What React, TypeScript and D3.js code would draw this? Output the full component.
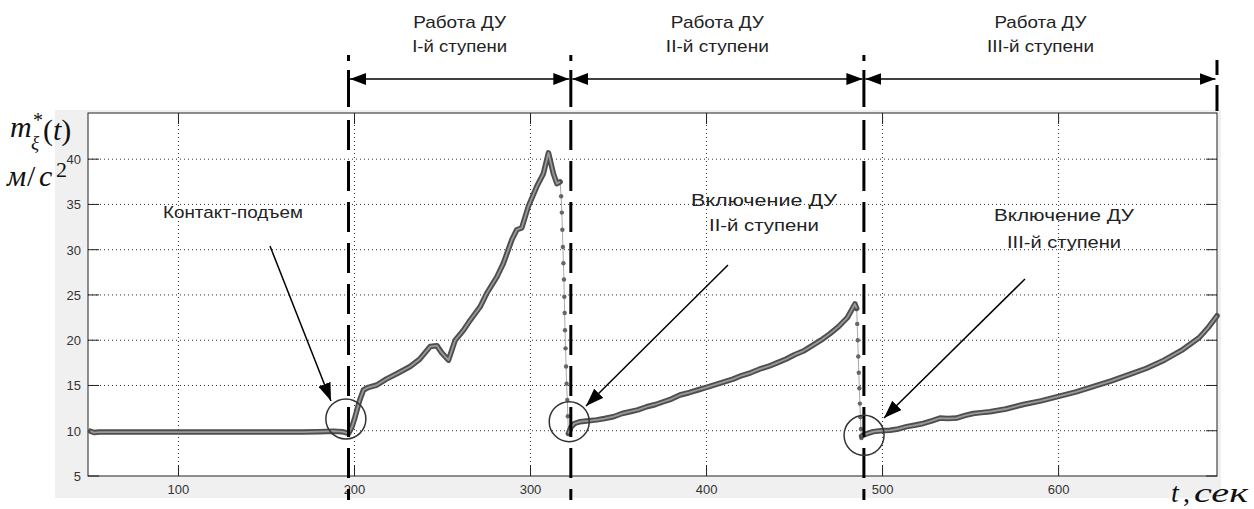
import React from "react";
import * as d3 from "d3";

// ---- data ----
const xTicks = [100, 200, 300, 400, 500, 600];
const yTicks = [5, 10, 15, 20, 25, 30, 35, 40];

// stage boundaries (seconds)
const boundaries = [196.6, 322.9, 489.4, 690];
const stageTitles = ["Работа ДУ", "Работа ДУ", "Работа ДУ"];
const stageSubtitles = ["I-й ступени", "II-й ступени", "III-й ступени"];

// segment 1: ground + first stage
const s1T = [50, 52, 55, 60, 70, 90, 110, 130, 150, 170, 180, 188, 193, 196.6, 198.5, 200, 201.4, 203, 205.1, 208, 212.7, 218, 224, 231.6, 237, 243, 246.8, 249.6, 253.4, 257.2, 261.9, 265.7, 271.4, 275.2, 280.9, 284.6, 289.4, 292.2, 295.0, 298.8, 303.6, 307.3, 310.2, 313.0, 315, 316.8];
const s1V = [9.95, 9.8, 9.85, 9.85, 9.85, 9.85, 9.85, 9.85, 9.85, 9.85, 9.9, 9.95, 9.9, 9.7, 10.4, 11.3, 12.3, 13.4, 14.5, 14.8, 15.05, 15.7, 16.3, 17.1, 17.9, 19.3, 19.4, 18.6, 17.8, 20.0, 21.1, 22.2, 23.7, 25.2, 27.0, 28.5, 31.1, 32.2, 32.4, 34.8, 37.0, 38.4, 40.7, 38.4, 37.3, 37.5];

// separation drop 1
const d1T = [316.8, 317.4, 317.8, 318.1, 318.4, 318.7, 319.0, 319.2, 319.4, 319.6, 319.9, 320.2, 320.5, 320.9, 321.2, 321.5];
const d1V = [37.5, 35.9, 34.1, 32.2, 30.3, 28.5, 26.7, 24.8, 23.0, 21.1, 19.1, 17.1, 15.2, 13.4, 11.6, 9.7];

// segment 2: second stage
const s2T = [321.5, 323, 325, 328.2, 333, 337.6, 342, 347.1, 352, 356.5, 361, 366, 371, 375.5, 380, 384.9, 390, 395, 400, 405, 410, 415, 420, 425, 430, 435, 440, 445, 450, 455, 460, 465, 470, 475, 480, 484.3, 485.3];
const s2V = [9.7, 10.4, 10.8, 11.0, 11.1, 11.2, 11.35, 11.55, 11.9, 12.1, 12.3, 12.65, 12.9, 13.2, 13.5, 13.95, 14.2, 14.5, 14.8, 15.1, 15.4, 15.7, 16.1, 16.4, 16.8, 17.1, 17.5, 17.9, 18.4, 18.8, 19.4, 20.0, 20.7, 21.5, 22.5, 24.0, 23.5];

// separation drop 2
const d2T = [485.3, 485.6, 485.9, 486.2, 486.5, 486.8, 487.1, 487.4, 487.7, 488.0];
const d2V = [23.5, 21.8, 20.0, 18.2, 16.4, 14.7, 13.0, 11.5, 10.2, 9.2];

// segment 3: third stage
const s3T = [488.1, 490, 494.7, 499, 504.2, 509, 513.7, 518, 523.1, 528, 532.6, 537, 542, 547, 551.5, 556, 561, 570, 580, 590, 600, 610, 620, 630, 640, 650, 660, 670, 680, 685, 690];
const s3V = [9.4, 9.6, 9.9, 10.0, 10.05, 10.2, 10.45, 10.6, 10.8, 11.1, 11.4, 11.35, 11.4, 11.7, 11.9, 12.0, 12.1, 12.4, 12.9, 13.3, 13.8, 14.3, 14.9, 15.5, 16.2, 16.9, 17.8, 18.9, 20.3, 21.4, 22.7];

// circles marking stage ignition (t, value)
const circleT = [195.1, 322.0, 489.5];
const circleV = [11.3, 11.0, 9.5];

// ---- layout ----
const W = 1254, H = 509;
const L = 88, R = 1217, T = 113, B = 476;
const x = d3.scaleLinear().domain([48.6, 690]).range([L, R]);
const y = d3.scaleLinear().domain([5, 45.1]).range([B, T]);

const zip = (ts: number[], vs: number[]) => ts.map((t, i) => [t, vs[i]] as [number, number]);
const line = d3.line<[number, number]>().x(d => x(d[0])).y(d => y(d[1]));

const SANS = "'Liberation Sans', Arial, sans-serif";
const SERIF = "'Liberation Serif', 'Times New Roman', serif";

function Label(props: { x: number; y: number; len: number; children: string }) {
  return (
    <text x={props.x} y={props.y} textAnchor="middle" fontFamily={SANS} fontSize={17} fill="#222"
      textLength={props.len} lengthAdjust="spacingAndGlyphs">{props.children}</text>
  );
}

export default function App() {
  const thick = [zip(s1T, s1V), zip(s2T, s2V), zip(s3T, s3V)];
  const drops = [zip(d1T, d1V), zip(d2T, d2V)];
  const bx = boundaries.map(b => x(b));
  const titleLen = [93, 93, 92];
  const subLen = [95, 103, 107];
  return (
    <svg width={W} height={H} style={{ position: "absolute", left: 0, top: 0, background: "#fff" }}>
      <defs>
        <marker id="ah" viewBox="0 0 16 12" refX="16" refY="6" markerWidth="16" markerHeight="12" markerUnits="userSpaceOnUse" orient="auto-start-reverse">
          <path d="M0,0 L16,6 L0,12 z" fill="#000" />
        </marker>
        <marker id="ah2" viewBox="0 0 18 13" refX="18" refY="6.5" markerWidth="18" markerHeight="13" markerUnits="userSpaceOnUse" orient="auto">
          <path d="M0,0 L18,6.5 L0,13 z" fill="#000" />
        </marker>
      </defs>
      <rect x={55} y={110} width={1166} height={388} fill="#f0f0f0" />
      <rect x={L} y={T} width={R - L} height={B - T} fill="#fff" />
      {/* grid */}
      {xTicks.map(t => (
        <line key={"gx" + t} x1={x(t)} x2={x(t)} y1={T} y2={B} stroke="#333" strokeWidth={1} strokeDasharray="1,3" />
      ))}
      {yTicks.filter(v => v > 5).map(v => (
        <line key={"gy" + v} x1={L} x2={R} y1={y(v)} y2={y(v)} stroke="#333" strokeWidth={1} strokeDasharray="1,3" />
      ))}
      {/* ticks */}
      {xTicks.map(t => (
        <g key={"tx" + t}>
          <line x1={x(t)} x2={x(t)} y1={B} y2={B - 11} stroke="#222" />
          <line x1={x(t)} x2={x(t)} y1={T} y2={T + 11} stroke="#222" />
          <text x={x(t)} y={494} textAnchor="middle" fontFamily={SANS} fontSize={13} fill="#333">{t}</text>
        </g>
      ))}
      {yTicks.map(v => (
        <g key={"ty" + v}>
          <line x1={L} x2={L + 11} y1={y(v)} y2={y(v)} stroke="#222" />
          <line x1={R} x2={R - 11} y1={y(v)} y2={y(v)} stroke="#222" />
          <text x={81} y={y(v) + 5} textAnchor="end" fontFamily={SANS} fontSize={13} fill="#333">{v}</text>
        </g>
      ))}
      <rect x={L} y={T} width={R - L} height={B - T} fill="none" stroke="#222" strokeWidth={1} />

      {/* drop lines with markers */}
      {drops.map((d, i) => (
        <g key={"d" + i}>
          <path d={line(d) || ""} fill="none" stroke="#aaa" strokeWidth={1} />
          {d.map((p, j) => (
            <circle key={j} cx={x(p[0])} cy={y(p[1])} r={2.2} fill="#666" />
          ))}
        </g>
      ))}
      {/* thick series */}
      {thick.map((d, i) => (
        <g key={"s" + i}>
          <path d={line(d) || ""} fill="none" stroke="#4e4e4e" strokeWidth={5.5} strokeLinejoin="round" strokeLinecap="round" />
          <path d={line(d) || ""} fill="none" stroke="#9a9a9a" strokeWidth={1.8} strokeLinejoin="round" />
        </g>
      ))}

      {/* stage boundary lines */}
      {bx.map((bxi, i) => (
        <g key={"b" + i}>
          {i < 3 ? (
            <>
              <line x1={bxi} x2={bxi} y1={55} y2={61} stroke="#000" strokeWidth={3} />
              <line x1={bxi} x2={bxi} y1={70} y2={107} stroke="#000" strokeWidth={3} />
              <line x1={bxi} x2={bxi} y1={120} y2={500} stroke="#000" strokeWidth={3} strokeDasharray="30,11" />
            </>
          ) : (
            <>
              <line x1={bxi} x2={bxi} y1={60} y2={75} stroke="#000" strokeWidth={3} />
              <line x1={bxi} x2={bxi} y1={85} y2={111} stroke="#000" strokeWidth={3} />
            </>
          )}
        </g>
      ))}
      {/* stage span arrows and titles */}
      {stageTitles.map((s, i) => {
        const a = bx[i], b = bx[i + 1];
        const cx = (a + b) / 2;
        return (
          <g key={"st" + i}>
            <line x1={a + 1.5} x2={b - 1.5} y1={79} y2={79} stroke="#000" strokeWidth={1.5} markerStart="url(#ah)" markerEnd="url(#ah)" />
            <Label x={cx} y={28} len={titleLen[i]}>{s}</Label>
            <Label x={cx} y={52} len={subLen[i]}>{stageSubtitles[i]}</Label>
          </g>
        );
      })}

      {/* circles */}
      {circleT.map((t, i) => (
        <circle key={"c" + i} cx={x(t)} cy={y(circleV[i])} r={20} fill="none" stroke="#333" strokeWidth={1.5} />
      ))}

      {/* annotations */}
      <Label x={233} y={218} len={140}>Контакт-подъем</Label>
      <line x1={270} y1={246} x2={331} y2={401} stroke="#000" strokeWidth={1.5} markerEnd="url(#ah2)" />
      <Label x={764} y={206} len={146}>Включение ДУ</Label>
      <Label x={764} y={231} len={110}>II-й ступени</Label>
      <line x1={728} y1={265} x2={586} y2={406} stroke="#000" strokeWidth={1.5} markerEnd="url(#ah2)" />
      <Label x={1064} y={221} len={140}>Включение ДУ</Label>
      <Label x={1064} y={248} len={114}>III-й ступени</Label>
      <line x1={1025} y1={279} x2={884} y2={418} stroke="#000" strokeWidth={1.5} markerEnd="url(#ah2)" />

      {/* y label */}
      <text x={10} y={137} fontFamily={SERIF} fontSize={30} fontStyle="italic" fill="#111">m</text>
      <text x={33} y={127} fontFamily={SERIF} fontSize={20} fill="#111">*</text>
      <text x={31} y={149} fontFamily={SERIF} fontSize={19} fontStyle="italic" fill="#111">ξ</text>
      <text x={43} y={140} fontFamily={SERIF} fontSize={30} fill="#111">
        (<tspan fontStyle="italic">t</tspan>)
      </text>
      <text x={7} y={186} fontFamily={SERIF} fontSize={30} fontStyle="italic" fill="#111">м</text>
      <text x={27} y={186} fontFamily={SERIF} fontSize={30} fill="#111">/</text>
      <text x={39} y={186} fontFamily={SERIF} fontSize={30} fontStyle="italic" fill="#111">с</text>
      <text x={56} y={177} fontFamily={SERIF} fontSize={22} fill="#111">2</text>

      {/* x label */}
      <text x={1171} y={502} fontFamily={SERIF} fontSize={28} fontStyle="italic" fill="#111">t</text>
      <text x={1183} y={502} fontFamily={SERIF} fontSize={28} fill="#111">,</text>
      <text x={1194} y={502} fontFamily={SERIF} fontSize={28} fontStyle="italic" fill="#111" textLength={54} lengthAdjust="spacingAndGlyphs">сек</text>
    </svg>
  );
}
